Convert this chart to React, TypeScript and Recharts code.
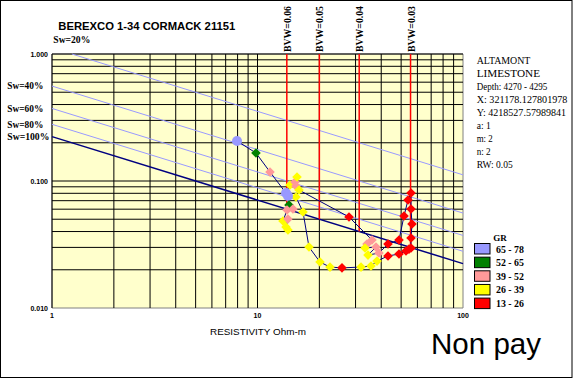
import React from 'react';
import { ScatterChart, Scatter, XAxis, YAxis, ReferenceLine, ReferenceArea } from 'recharts';

// ---- data (depth order) ----
const resistivity = [
  7.95, 9.83, 11.5, 13.76, 14.39, 15.22, 15.57, 15.39, 15.92, 27.88,
  36.07, 34.1, 33.36, 37.72, 34.49, 39.01, 43.15, 48.82, 51.63, 54.0,
  55.85, 55.85, 56.48, 55.85, 55.85, 54.6, 52.8, 48.82, 43.15, 38.15,
  35.67, 31.89, 25.77, 22.53, 20.15, 17.81, 16.65, 15.39, 14.07, 14.23,
  14.88, 13.92, 13.31, 14.07, 13.76, 14.07,
];
const porosity = [
  0.2065, 0.1662, 0.1178, 0.0804, 0.093, 0.0982, 0.1075, 0.0913, 0.0849, 0.0521,
  0.0343, 0.0319, 0.0297, 0.0302, 0.0261, 0.0271, 0.0319, 0.0343, 0.053, 0.0709,
  0.0804, 0.0602, 0.0459, 0.0356, 0.0297, 0.0291, 0.0281, 0.0266, 0.0257, 0.0234,
  0.0214, 0.021, 0.0207, 0.021, 0.023, 0.0302, 0.057, 0.0748, 0.0762, 0.0647,
  0.0602, 0.0591, 0.0484, 0.0502, 0.0434, 0.0411,
];
// GR class index: 0 = 65-78, 1 = 52-65, 2 = 39-52, 3 = 26-39, 4 = 13-26
const grClass = [
  0, 1, 2, 0, 3, 2, 3, 2, 3, 4,
  2, 2, 3, 2, 3, 2, 4, 4, 4, 4,
  4, 4, 4, 4, 4, 4, 4, 4, 4, 3,
  3, 3, 4, 3, 3, 3, 3, 3, 0, 1,
  2, 2, 3, 2, 3, 3,
];
const grLabels = ['65 - 78', '52 - 65', '39 - 52', '26 - 39', '13 - 26'];
const grColors = ['#9999FF', '#008000', '#FF9999', '#FFFF00', '#FF0000'];

const archie = { a: 1, m: 2, n: 2, rw: 0.05 };
const swLevels = [0.2, 0.4, 0.6, 0.8, 1.0];
const bvwLevels = [0.06, 0.05, 0.04, 0.03];
const xTicks = [1, 10, 100];
const yTicks = [0.01, 0.1, 1];
const xGrid = [1, 2, 3, 4, 5, 6, 7, 8, 9, 10, 20, 30, 40, 50, 60, 70, 80, 90];
const yGrid = [0.02, 0.03, 0.04, 0.05, 0.06, 0.07, 0.08, 0.09, 0.1, 0.2, 0.3, 0.4, 0.5, 0.6, 0.7, 0.8, 0.9, 1];
const infoLines = [
  'ALTAMONT',
  'LIMESTONE',
  'Depth: 4270 - 4295',
  'X: 321178.127801978',
  'Y: 4218527.57989841',
  'a: 1',
  'm: 2',
  'n: 2',
  'RW: 0.05',
];
const infoWidths = [53.7, 63.3, 70.7, 90.7, 89.3, 14, 16, 14, 36];

const points = resistivity.map((rt, i) => ({ rt, phi: porosity[i], gr: grClass[i] }));

const serif = "'Liberation Serif', 'Times New Roman', serif";
const sans = "'Liberation Sans', Arial, sans-serif";

const swSegment = (sw: number) => {
  const { a, m, n, rw } = archie;
  const rtStart = Math.max(1, (a * rw) / Math.pow(sw, n));
  const phiAt = (rt: number) => Math.pow((a * rw) / (rt * Math.pow(sw, n)), 1 / m);
  return [
    { x: rtStart, y: phiAt(rtStart) },
    { x: 100, y: phiAt(100) },
  ];
};

const Marker = (props: any) => {
  const { cx, cy, payload } = props;
  if (cx == null || cy == null || !payload) return null;
  const c = grColors[payload.gr];
  if (payload.gr === 0) return <circle cx={cx} cy={cy} r={5} fill={c} />;
  const s = 4.8;
  return <path d={`M${cx},${cy - s}L${cx + s},${cy}L${cx},${cy + s}L${cx - s},${cy}Z`} fill={c} />;
};

const YTick = (props: any) => {
  const { x, y, payload } = props;
  return (
    <text x={x} y={y + 2.5} textAnchor="end" fontFamily={sans} fontWeight="bold" fontSize={7} fill="#000">
      {Number(payload.value).toFixed(3)}
    </text>
  );
};
const XTick = (props: any) => {
  const { x, y, payload } = props;
  return (
    <text x={x} y={y + 6} textAnchor="middle" fontFamily={sans} fontWeight="bold" fontSize={7} fill="#000">
      {String(payload.value)}
    </text>
  );
};

const swLabelPos = [
  { t: 'Sw=20%', x: 53.3, y: 42.7, w: 37 },
  { t: 'Sw=40%', x: 7.3, y: 89.4, w: 36 },
  { t: 'Sw=60%', x: 7.3, y: 112, w: 36 },
  { t: 'Sw=80%', x: 7.3, y: 128.3, w: 36 },
  { t: 'Sw=100%', x: 7.3, y: 140, w: 42 },
];

export default function App() {
  return (
    <div style={{ position: 'absolute', left: 0, top: 0, width: 576, height: 378, background: '#fff' }}>
      <ScatterChart width={576} height={378} margin={{ top: 54, right: 113, bottom: 50, left: 0 }}>
        <XAxis
          type="number"
          dataKey="rt"
          scale="log"
          domain={[1, 100]}
          ticks={xTicks}
          allowDataOverflow
          height={20}
          axisLine={false}
          tickLine={false}
          tickSize={0}
          tickMargin={4}
          tick={<XTick />}
        />
        <YAxis
          type="number"
          dataKey="phi"
          scale="log"
          domain={[0.01, 1]}
          ticks={yTicks}
          allowDataOverflow
          width={52}
          axisLine={false}
          tickLine={false}
          tickSize={0}
          tickMargin={4}
          tick={<YTick />}
        />
        <ReferenceArea x1={1} x2={100} y1={0.01} y2={1} fill="#FFFFCC" fillOpacity={1} stroke="#808080" strokeWidth={1} ifOverflow="visible" />
        {xGrid.map((v) => (
          <ReferenceLine key={'vx' + v} x={v} stroke="#000" strokeWidth={1} ifOverflow="visible" />
        ))}
        {yGrid.map((v) => (
          <ReferenceLine key={'hy' + v} y={v} stroke="#000" strokeWidth={1} ifOverflow="visible" />
        ))}
        {swLevels.map((sw) => (
          <ReferenceLine
            key={'sw' + sw}
            segment={swSegment(sw)}
            stroke={sw === 1 ? '#000080' : '#9999FF'}
            strokeWidth={sw === 1 ? 1.5 : 1}
            ifOverflow="visible"
          />
        ))}
        {bvwLevels.map((b) => {
          const rt = (archie.a * archie.rw) / Math.pow(b, archie.n);
          return (
            <ReferenceLine
              key={'bvw' + b}
              segment={[{ x: rt, y: 1 }, { x: rt, y: b }]}
              stroke="#FF0000"
              strokeWidth={1.5}
              ifOverflow="visible"
              label={(p: any) => {
                const vb = p.viewBox || {};
                return (
                  <text
                    transform={`translate(${vb.x + 4},${vb.y - 2}) rotate(-90)`}
                    fontFamily={serif}
                    fontWeight="bold"
                    fontSize={10}
                    textLength={46}
                    lengthAdjust="spacingAndGlyphs"
                    fill="#000"
                  >
                    {`BVW=${b.toFixed(2)}`}
                  </text>
                );
              }}
            />
          );
        })}
        <Scatter
          data={points}
          isAnimationActive={false}
          line={{ stroke: '#000080', strokeWidth: 1 }}
          lineType="joint"
          shape={<Marker />}
        />
      </ScatterChart>
      <svg width={576} height={378} style={{ position: 'absolute', left: 0, top: 0, pointerEvents: 'none' }}>
        <rect x={0.5} y={0.5} width={571.5} height={377} fill="none" stroke="#000" strokeWidth={1} />
        <text x={58.3} y={29.5} fontFamily={sans} fontWeight="bold" fontSize={10.5} textLength={177} lengthAdjust="spacingAndGlyphs">
          BEREXCO 1-34 CORMACK 21151
        </text>
        {swLabelPos.map((s) => (
          <text key={s.t} x={s.x} y={s.y} fontFamily={serif} fontWeight="bold" fontSize={9.5} textLength={s.w} lengthAdjust="spacingAndGlyphs">
            {s.t}
          </text>
        ))}
        {infoLines.map((t, i) => (
          <text key={t} x={476.7} y={64.3 + i * 12.9} fontFamily={serif} fontSize={10} textLength={infoWidths[i]} lengthAdjust="spacingAndGlyphs">
            {t}
          </text>
        ))}
        <text x={493.3} y={240.5} fontFamily={serif} fontWeight="bold" fontSize={9}>GR</text>
        {grLabels.map((g, i) => (
          <g key={g}>
            <rect x={474.5} y={243.5 + i * 13.65} width={15.5} height={10.5} fill={grColors[i]} stroke="#000" strokeWidth={1} />
            <text x={496} y={252.5 + i * 13.65} fontFamily={serif} fontWeight="bold" fontSize={9.5} textLength={28} lengthAdjust="spacingAndGlyphs">
              {g}
            </text>
          </g>
        ))}
        <text x={210} y={335} fontFamily={sans} fontSize={9} textLength={96} lengthAdjust="spacingAndGlyphs">
          RESISTIVITY Ohm-m
        </text>
        <text x={431} y={354} fontFamily={sans} fontSize={29} textLength={110} lengthAdjust="spacingAndGlyphs">
          Non pay
        </text>
      </svg>
    </div>
  );
}
